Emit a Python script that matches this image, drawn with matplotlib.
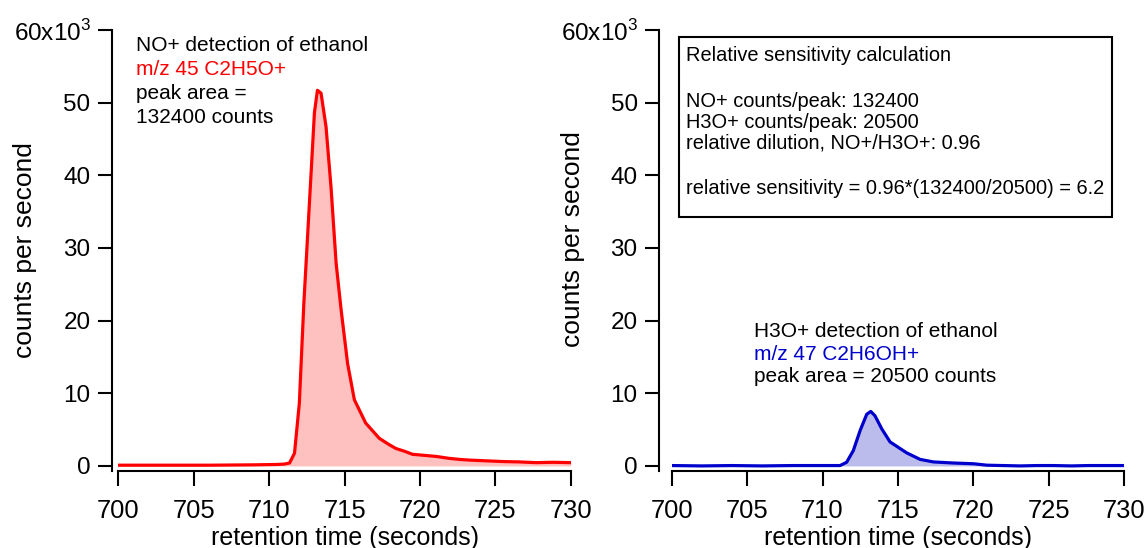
import numpy as np
import matplotlib.pyplot as plt
from matplotlib.patches import Rectangle

plt.rcParams['font.family'] = ['Liberation Sans', 'DejaVu Sans']
plt.rcParams['mathtext.fontset'] = 'custom'
plt.rcParams['mathtext.rm'] = 'Liberation Sans'

# NO+ channel, m/z 45 (counts per second, x10^3)
no_time = [700, 703, 706, 709, 710.5, 711.0, 711.35, 711.68, 712.0, 712.3, 712.67, 713.0,
           713.2, 713.44, 713.77, 714.1, 714.44, 714.77, 715.2, 715.65, 716.4, 717.3,
           717.9, 718.4, 719.0, 719.5, 720.3, 721.1, 721.9, 722.6, 723.3, 724.4, 725.5,
           726.6, 727.7, 728.8, 730]
no_cps = [0.1, 0.1, 0.1, 0.15, 0.2, 0.25, 0.4, 1.75, 8.6, 22.4, 36.2, 48.6,
          51.7, 51.3, 46.7, 38.4, 27.9, 21.5, 14.1, 9.1, 5.9, 3.8,
          3.0, 2.4, 2.0, 1.6, 1.45, 1.3, 1.05, 0.9, 0.8, 0.7, 0.6,
          0.55, 0.45, 0.5, 0.45]

# H3O+ channel, m/z 47
h3o_time = [700, 702, 704, 706, 708, 710, 711.16, 711.6, 712.04, 712.5, 712.93, 713.2,
            713.48, 713.93, 714.48, 714.92, 715.58, 716.47, 717.35, 718.67, 720.0,
            720.9, 722.0, 723.1, 724.2, 725.3, 726.5, 727.6, 728.7, 730]
h3o_cps = [0.05, 0.0, 0.05, 0.0, 0.05, 0.05, 0.05, 0.5, 2.1, 4.9, 7.1, 7.5,
           6.9, 5.1, 3.3, 2.7, 1.8, 0.9, 0.55, 0.4, 0.3,
           0.1, 0.05, 0.0, 0.05, 0.05, 0.0, 0.05, 0.05, 0.05]

yticks = [0, 10, 20, 30, 40, 50, 60]
ytick_labels = ['0', '10', '20', '30', '40', '50', '60x10$^{3}$']
xticks = [700, 705, 710, 715, 720, 725, 730]

fig = plt.figure(figsize=(11.48, 5.48), dpi=100)
ax1 = fig.add_axes([0.1031, 0.1405, 0.3941, 0.8048])
ax2 = fig.add_axes([0.5851, 0.1405, 0.3941, 0.8048])

def style_axis(ax, offset, lx, ly):
    ax.set_xlim(700, 730)
    ax.set_ylim(-0.7, 60)
    ax.set_xticks(xticks)
    ax.set_yticks(yticks)
    ax.set_yticklabels(ytick_labels)
    for s in ['top', 'right']:
        ax.spines[s].set_visible(False)
    ax.spines['left'].set_position(('outward', offset))
    ax.spines['left'].set_linewidth(1.5)
    ax.spines['bottom'].set_linewidth(1.5)
    ax.tick_params(axis='x', length=11, width=1.5, labelsize=18.4, pad=9)
    ax.tick_params(axis='y', length=10, width=1.5, labelsize=17.5, pad=5.5)
    ax.set_xlabel('retention time (seconds)', fontsize=18, labelpad=2)
    ax.set_ylabel('counts per second', fontsize=19)
    ax.yaxis.set_label_coords(lx, ly)

# left panel: NO+
ax1.fill_between(no_time, no_cps, 0, color='#ffc0c0', lw=0)
ax1.plot(no_time, no_cps, color='#ff0000', lw=2.3)
style_axis(ax1, 4.5, -0.18, 0.5)
ax1.text(701.2, 57.9, 'NO+ detection of ethanol', fontsize=15, va='center')
ax1.text(701.2, 54.6, 'm/z 45 C2H5O+', fontsize=15, va='center', color='#ff0000')
ax1.text(701.2, 51.3, 'peak area =', fontsize=15, va='center')
ax1.text(701.2, 48.0, '132400 counts', fontsize=15, va='center')

# right panel: H3O+
ax2.fill_between(h3o_time, h3o_cps, 0, color='#bcbcec', lw=0)
ax2.plot(h3o_time, h3o_cps, color='#0000cc', lw=2.3)
style_axis(ax2, 9, -0.192, 0.527)
ax2.text(705.46, 18.5, 'H3O+ detection of ethanol', fontsize=15, va='center')
ax2.text(705.46, 15.4, 'm/z 47 C2H6OH+', fontsize=15, va='center', color='#0000cc')
ax2.text(705.46, 12.3, 'peak area = 20500 counts', fontsize=15, va='center')

ax2.add_patch(Rectangle((700.5, 34.25), 28.7, 24.75, fill=False, lw=1.5,
                        ec='black', clip_on=False))
box_lines = [(56.5, 'Relative sensitivity calculation'),
             (50.1, 'NO+ counts/peak: 132400'),
             (47.3, 'H3O+ counts/peak: 20500'),
             (44.4, 'relative dilution, NO+/H3O+: 0.96'),
             (38.2, 'relative sensitivity = 0.96*(132400/20500) = 6.2')]
for yy, txt in box_lines:
    ax2.text(700.95, yy, txt, fontsize=14.4, va='center')

fig.savefig('out.png', dpi=100)
